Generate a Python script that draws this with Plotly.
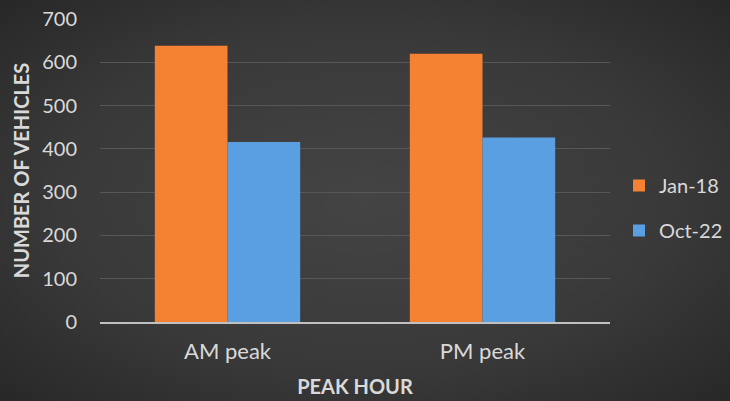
import base64
import plotly.graph_objects as go

categories = ["AM peak", "PM peak"]
jan18 = [638, 620]
oct22 = [416, 426]
y_ticks = [0, 100, 200, 300, 400, 500, 600, 700]

W, H = 730, 401
L, R, T, B = 100, 120, 19, 79
pw, ph = W - L - R, H - T - B

svg = f'''<svg xmlns="http://www.w3.org/2000/svg" width="{W}" height="{H}" viewBox="0 0 {W} {H}" preserveAspectRatio="none">
<defs><radialGradient id="g" cx="50%" cy="50%" r="70%">
<stop offset="0%" stop-color="#444444"/><stop offset="60%" stop-color="#393939"/><stop offset="100%" stop-color="#282828"/>
</radialGradient></defs><rect width="{W}" height="{H}" fill="url(#g)"/></svg>'''
bg_src = "data:image/svg+xml;base64," + base64.b64encode(svg.encode()).decode()

fig = go.Figure()
fig.add_trace(go.Bar(name="Jan-18", x=categories, y=jan18, legendgroup="a",
                     marker=dict(color="#f58232", line=dict(width=0))))
fig.add_trace(go.Bar(name="Oct-22", x=categories, y=oct22, legendgroup="b",
                     marker=dict(color="#5b9fe3", line=dict(width=0))))

fig.add_layout_image(dict(source=bg_src, xref="paper", yref="paper",
                          x=-L / pw, y=1 + T / ph, sizex=W / pw, sizey=H / ph,
                          xanchor="left", yanchor="top", sizing="stretch", layer="below"))

fig.update_layout(
    width=W, height=H,
    margin=dict(l=L, r=R, t=T, b=B, pad=0, autoexpand=False),
    paper_bgcolor="#363636", plot_bgcolor="rgba(0,0,0,0)",
    font=dict(family="Lato, 'Open Sans', sans-serif", color="#d9d9d9", size=19),
    barmode="group", bargap=0.43, bargroupgap=0,
    showlegend=True,
    legend=dict(x=(728 - L) / pw, y=(322 - 208) / ph, xanchor="right", yanchor="middle",
                font=dict(size=20, color="#d9d9d9"), tracegroupgap=16,
                itemwidth=30, bgcolor="rgba(0,0,0,0)"),
    xaxis=dict(title=dict(text="<b>PEAK HOUR</b>", font=dict(size=20, color="#d9d9d9"), standoff=17),
               showgrid=False, showline=True, linecolor="#c0c0c0", linewidth=1.5,
               tickfont=dict(size=22, color="#d9d9d9"), ticks="outside", ticklen=9,
               tickcolor="rgba(0,0,0,0)", automargin=False),
    yaxis=dict(title=dict(text="<b>NUMBER OF VEHICLES</b>", font=dict(size=20, color="#d9d9d9"), standoff=7),
               range=[0, 700], tickvals=y_ticks, showgrid=True, gridcolor="#575757", gridwidth=1,
               zeroline=False, tickfont=dict(size=20, color="#d9d9d9"), ticks="outside", ticklen=18,
               tickcolor="rgba(0,0,0,0)", showline=False, automargin=False),
)
fig.write_html("out.html", config={"displayModeBar": False})

with open("out.html", "r", encoding="utf-8") as f:
    html = f.read()
html = html.replace("<head>", "<head><style>html,body{margin:0;padding:0;background:#2a2a2a;overflow:hidden;}</style>", 1)
with open("out.html", "w", encoding="utf-8") as f:
    f.write(html)
